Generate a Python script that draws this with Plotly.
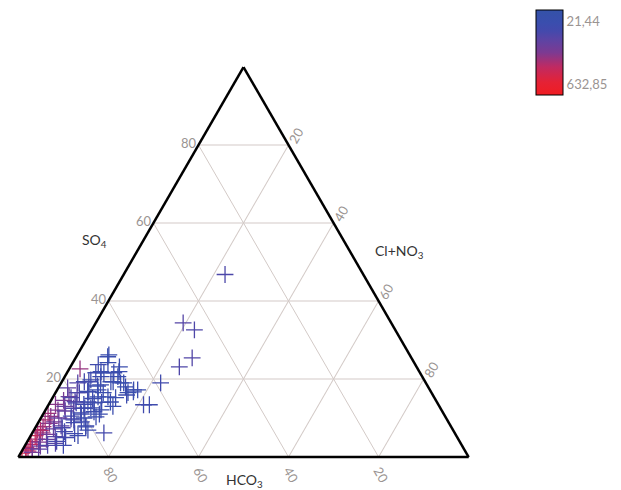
import plotly.graph_objects as go

# Ternary composition (% meq) of each sample and its total dissolved solids
so4 = [1.0, 1.8, 2.5, 3.2, 4.0, 4.6, 5.5, 6.2, 7.0, 7.8, 8.6, 9.5, 10.4, 11.2, 12.0, 2.2, 3.8, 5.8,
       13.5, 22.6, 14.5, 1.5, 6.8, 9.0,
       2.8, 4.5, 7.2, 10.0, 11.8, 13.0, 15.5, 16.5, 8.0, 5.2, 12.5, 17.7, 19.0, 3.5, 9.8, 14.2,
       6.5, 8.8, 11.0, 13.5, 15.0, 16.8, 18.2, 19.3, 20.6, 21.9, 23.7, 25.7, 24.2, 23.1, 21.6, 20.6,
       19.3, 19.0, 18.0, 17.2, 16.7, 15.9, 19.0, 13.4, 13.4, 23.1, 25.4, 46.8, 34.4, 32.6, 6.2, 11.6,
       12.6, 7.7, 10.0, 19.3, 19.8, 16.5, 16.7, 17.2, 15.4, 16.5, 15.4, 14.1, 15.2, 13.9, 14.1, 13.9,
       15.2, 12.1, 10.3, 11.3, 9.5, 6.9, 26.2, 21.9, 21.6, 21.6, 19.3, 19.0, 18.5, 17.2, 16.5,
       5.0, 3.0, 2.0, 4.0, 6.0, 7.5, 9.0, 10.5, 11.0, 12.5, 14.0, 8.0, 1.2, 3.0, 5.5, 13.0]
cl_no3 = [0.3, 0.8, 0.4, 1.2, 0.6, 1.8, 1.0, 2.2, 0.8, 1.6, 2.6, 1.2, 2.0, 1.0, 2.8, 2.0, 2.8, 3.4,
          1.5, 2.4, 2.8, 1.4, 1.5, 3.5,
          3.5, 4.0, 4.2, 4.0, 4.5, 3.8, 3.5, 4.8, 5.5, 5.6, 6.0, 2.1, 3.7, 6.5, 6.8, 5.5,
          7.0, 8.0, 8.5, 7.8, 9.0, 7.0, 8.5, 6.0, 8.0, 7.4, 5.9, 7.0, 7.8, 10.9, 10.4, 11.8,
          10.9, 13.2, 14.8, 17.9, 17.2, 16.1, 22.1, 21.1, 22.4, 24.2, 25.9, 22.5, 19.4, 22.8, 15.9, 11.0,
          9.8, 11.1, 9.6, 5.0, 6.2, 5.3, 7.3, 9.1, 10.0, 10.6, 12.2, 13.4, 14.0, 9.9, 8.4, 5.9,
          4.1, 12.3, 12.1, 8.2, 7.6, 12.0, 7.0, 11.4, 6.4, 8.2, 11.4, 13.9, 9.0, 17.0, 16.1,
          8.0, 5.0, 3.5, 6.5, 9.5, 6.0, 9.5, 6.5, 12.5, 8.5, 11.5, 11.0, 2.5, 8.5, 10.5, 14.5]
hco3 = [98.7, 97.4, 97.1, 95.6, 95.4, 93.6, 93.5, 91.6, 92.2, 90.6, 88.8, 89.3, 87.6, 87.8, 85.2, 95.8, 93.4, 90.8,
        85.0, 75.0, 82.7, 97.1, 91.7, 87.5,
        93.7, 91.5, 88.6, 86.0, 83.7, 83.2, 81.0, 78.7, 86.5, 89.2, 81.5, 80.2, 77.3, 90.0, 83.4, 80.3,
        86.5, 83.2, 80.5, 78.7, 76.0, 76.2, 73.3, 74.7, 71.4, 70.7, 70.4, 67.3, 68.0, 66.0, 68.0, 67.6,
        69.8, 67.8, 67.2, 64.9, 66.1, 68.0, 58.9, 65.5, 64.2, 52.7, 48.7, 30.7, 46.2, 44.6, 77.9, 77.4,
        77.6, 81.2, 80.4, 75.7, 74.0, 78.2, 76.0, 73.7, 74.6, 72.9, 72.4, 72.5, 70.8, 76.2, 77.5, 80.2,
        80.7, 75.6, 77.6, 80.5, 82.9, 81.1, 66.8, 66.7, 72.0, 70.2, 69.3, 67.1, 72.5, 65.8, 67.4,
        87.0, 92.0, 94.5, 89.5, 84.5, 86.5, 81.5, 83.0, 76.5, 79.0, 74.5, 81.0, 96.3, 88.5, 84.0, 72.5]
tds = [540, 500, 480, 460, 520, 420, 490, 380, 450, 400, 340, 420, 370, 400, 330, 360, 330, 310,
       350, 380, 320, 430, 440, 300,
       270, 250, 240, 260, 230, 250, 260, 210, 200, 190, 180, 220, 180, 180, 170, 190,
       110, 90, 70, 100, 60, 80, 50, 110, 60, 45, 90, 50, 40, 45, 60, 40,
       50, 30, 40, 45, 60, 70, 90, 100, 80, 160, 170, 150, 180, 160, 120, 60,
       45, 70, 55, 120, 70, 150, 60, 45, 40, 30, 45, 40, 30, 60, 80, 130,
       160, 40, 55, 90, 110, 60, 40, 30, 80, 45, 40, 25, 55, 30, 25,
       110, 160, 210, 130, 90, 140, 80, 120, 50, 90, 60, 70, 300, 80, 60, 45]

tds_min, tds_max = 21.44, 632.85
bar_labels = ["21,44", "632,85"]

# the colour bar reads downward (low TDS at top), so colour by -TDS
neg_tds = [-v for v in tds]
pad = 107
cmin, cmax = -tds_max - pad, -tds_min + pad
scale = [[0.0, "#f01c22"], [0.15, "#e52235"], [0.33, "#c02a62"], [0.5, "#7c3a92"],
         [0.65, "#5c44a4"], [0.75, "#4449ac"], [0.85, "#3a4eae"], [1.0, "#3452a8"]]

fig = go.Figure()
fig.add_trace(go.Scatterternary(
    a=so4, b=hco3, c=cl_no3,
    mode="markers",
    marker=dict(
        symbol="cross-thin-open", size=12,
        color=neg_tds, colorscale=scale, cmin=cmin, cmax=cmax,
        line=dict(width=1.3, color=neg_tds, colorscale=scale, cmin=cmin, cmax=cmax),
        colorbar=dict(
            x=1.146, xanchor="left", xpad=0, y=1.145, yanchor="top", ypad=0,
            lenmode="pixels", len=85, thickness=27,
            outlinecolor="black", outlinewidth=1,
            tickmode="array", tickvals=[-tds_min, -tds_max], ticktext=bar_labels,
            ticks="", tickfont=dict(family="Lato", size=13, color="#9a9492"),
        ),
    ),
    showlegend=False,
    hoverinfo="a+b+c",
))

ticks = [20, 40, 60, 80]
tick_font = dict(family="Lato", size=13, color="#9a9492")
axis_common = dict(
    tickmode="array", tickvals=ticks, ticks="",
    showline=True, linecolor="black", linewidth=2.5,
    showgrid=True, gridcolor="#d3cac7", gridwidth=1,
    tickfont=tick_font, title=dict(text=""),
)

title_font = dict(family="Lato", size=14, color="#333")
fig.update_layout(
    width=621, height=490,
    paper_bgcolor="white", plot_bgcolor="white",
    margin=dict(l=17, r=151, t=67, b=33, autoexpand=False),
    ternary=dict(
        sum=100, bgcolor="white",
        domain=dict(x=[0, 1], y=[0, 1]),
        aaxis=dict(**axis_common),
        baxis=dict(**axis_common, tickangle=60),
        caxis=dict(**axis_common, tickangle=-60),
    ),
    font=dict(family="Lato"),
    annotations=[
        dict(text="SO<sub>4</sub>", x=0.172, y=0.554, xref="paper", yref="paper",
             xanchor="center", yanchor="middle", showarrow=False, font=title_font),
        dict(text="Cl+NO<sub>3</sub>", x=0.845, y=0.528, xref="paper", yref="paper",
             xanchor="center", yanchor="middle", showarrow=False, font=title_font),
        dict(text="HCO<sub>3</sub>", x=0.503, y=-0.059, xref="paper", yref="paper",
             xanchor="center", yanchor="middle", showarrow=False, font=title_font),
    ],
)

fig.write_html("out.html")
